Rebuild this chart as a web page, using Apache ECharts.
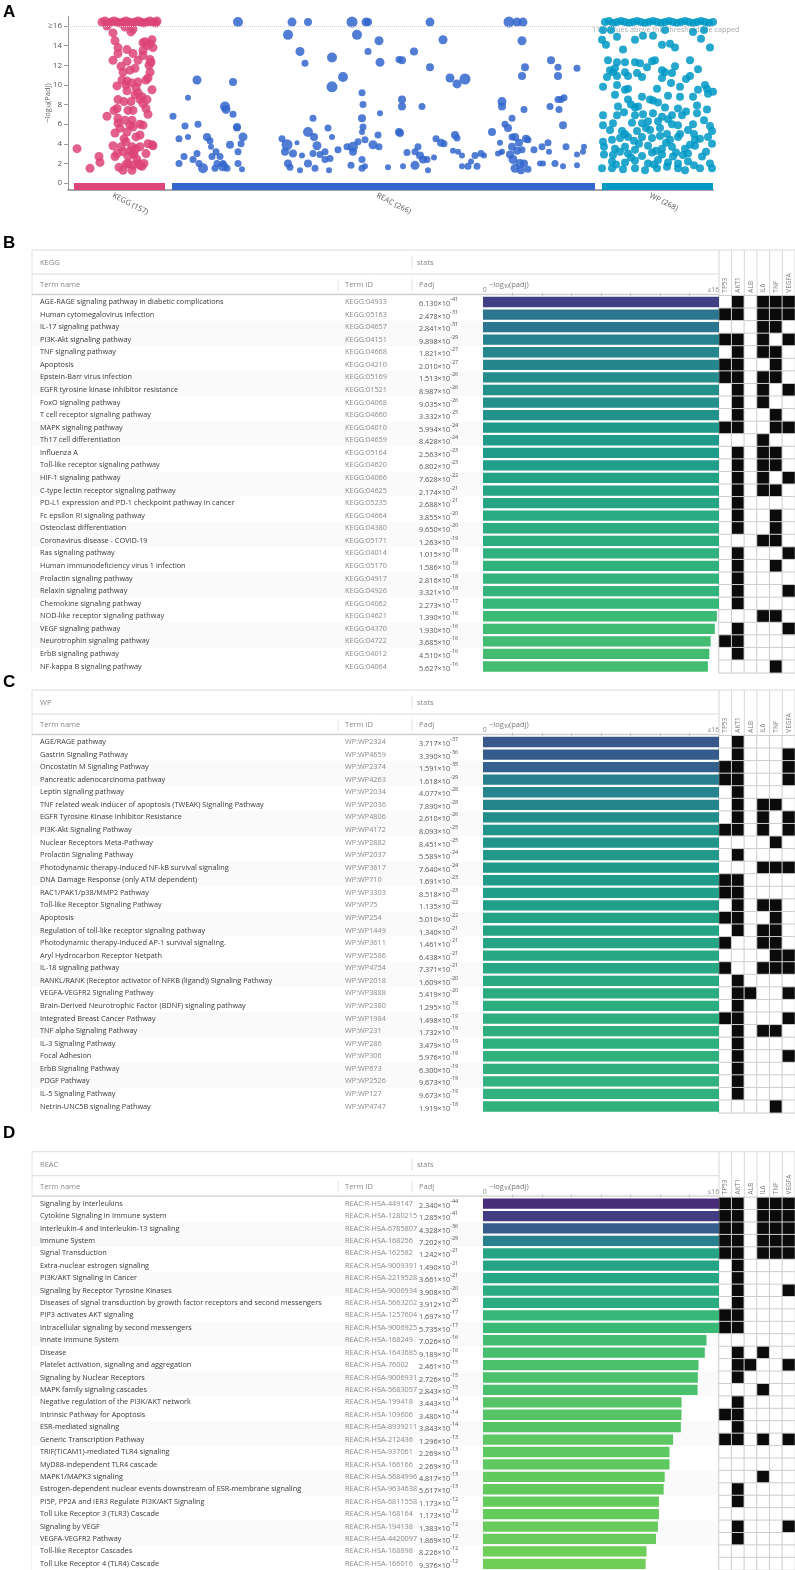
<!DOCTYPE html>
<html><head><meta charset="utf-8">
<script src="https://cdn.jsdelivr.net/npm/echarts@6/dist/echarts.min.js"></script>
<style>html,body{margin:0;padding:0;background:#fff}#c{width:795px;height:1570px}</style>
</head><body><div id="c"></div><script>
// ---------------- DATA ----------------
const sources = ['KEGG', 'REAC', 'WP'];
const sourceCounts = [157, 266, 268];
const sourceColors = ['#dd4477', '#3366cc', '#0099c6'];
// x position along the source track, -log10(padj) (capped points drawn at 16.4), optional dot size
const keggPoints = [
[34,16.4],[37,16.5],[40,16.3],[43,16.4],[46,16.5],[49,16.4],[52,16.3],[55,16.4],[58,16.5],[61,16.4],[64,16.3],[67,16.4],[70,16.5],[73,16.4],[76,16.3],[79,16.4],[82,16.5],[85,16.4],[88,16.3],[89,16.5],
[39,16.0],[45,15.3],[47,14.5],[50,13.8],[57,15.9],[63,15.4],[65,15.7],
[45,12.5],[53,11.9],[55,11.3],[59,12.4],[59,13.6],[65,13.2],[67,11.7],[75,13.5],[75,14.3],[82,14.2],[85,13.8],[84,14.6],[75,13.0],[82,12.6],[81,12.0],[82,11.3],[78,10.5],[84,9.5],
[49,9.9],[54,10.5],[59,10.4],[64,10.2],[59,9.4],[68,9.7],[70,9.2],[74,8.8],[75,8.1],[79,8.5],[50,8.5],[56,8.3],[63,8.3],[49,7.6],[46,7.4],[60,7.4],[65,7.4],[80,7.0],
[50,6.6],[57,6.4],[50,6.1],[65,5.7],[75,5.9],[47,5.1],[52,5.6],[59,5.2],[68,4.7],[72,4.9],[45,3.8],[53,3.7],[58,4.2],[64,3.7],[72,3.7],[84,3.9],[85,3.8],
[49,3.0],[55,3.2],[60,2.7],[65,3.1],[69,2.4],[78,3.0],[60,2.0],[65,1.8],[72,1.8],[55,1.3],[64,1.3],[74,1.7],[51,1.6],[47,2.7],[64,6.4],[72,8.5],[78,7.6],[50,13.2],
[70,2.0],[76,2.0],[58,1.9],[62,3.3],[68,3.5],[80,4.0],[56,4.5],[72,6.0],[62,5.9],[67,9.0],[58,10.0],[70,10.3],[80,10.7],[83,12.3],[70,12.5],[79,14.0],[77,14.4],[62,11.5],[66,2.9],
[9,3.5],[22,1.5],[31,2.7],[32,2.1],[39,6.8]
];
const reacPoints = [
[105,6.8,7],[111,4.5,7],[111,2.0,7],[117,5.8,7],[116,2.7,7],[120,8.7,6],[120,4.7,6],[125,2.4,7],[129,10.5,9],[130,6.0,7],[129,3.0,7],[131,2.0,7],[135,1.5,10],[139,4.7,8],[142,4.3,7],[143,3.7,6],[144,2.7,7],[147,1.5,7],[149,2.0,7],[155,1.7,10],[155,2.0,7],[157,7.8,10],[158,7.5,9],[159,1.5,7],[162,3.9,8],[165,10.3,8],[165,7.0,7],[169,5.7,8],[169,5.6,7],[170,3.2,7],[170,2.0,7],[173,4.0,7],[175,4.7,9],[174,1.4,6],[170,16.4,10],[148,3.2,7],[152,2.7,7],
[214,4.5,7],[217,3.2,8],[219,3.9,11],[220,2.0,8],[222,1.6,7],[225,3.0,8],[229,4.1,5],[232,1.3,6],[234,2.8,6],[240,2.0,8],[245,6.6,7],[246,4.7,8],[247,1.5,7],[249,3.8,9],[245,3.0,7],[252,2.9,7],[257,3.2,7],[257,2.4,7],[261,1.3,6],[262,2.5,7],[260,5.6,7],[264,4.7,6],[240,5.2,10],[270,3.4,7],
[220,15.1,10],[224,16.4,9],[240,16.4,8],[232,13.4,9],[237,12.2,7],[264,12.8,10],[264,9.8,11],[275,10.8,10],[284,16.4,11],[289,15.1,10],[298,16.4,9],[300,16.4,8],[300,13.4,7],[311,14.5,9],[312,12.3,9],
[294,9.2,7],[295,8.0,7],[312,7.1,6],[294,6.6,8],[295,5.7,7],[294,5.2,6],[310,4.9,7],[279,3.7,7],[285,3.7,10],[285,3.2,8],[290,4.2,7],[297,4.4,7],[294,2.4,7],[297,1.7,6],[283,1.8,7],[305,3.9,9],[311,3.7,7],[320,1.6,6],[294,1.5,7],[331,5.2,8],[331,12.6,7],
[362,16.4,9],[334,12.5,8],[346,13.4,8],[362,11.8,8],[375,14.6,9],[382,10.7,9],[389,10.1,9],[397,10.6,11],[334,8.5,8],[334,7.8,8],[354,7.8,7],[332,5.1,8],[347,3.2,7],[350,3.7,7],[339,3.1,7],[352,2.8,8],[355,2.4,8],[359,2.4,7],[347,1.8,9],[335,1.7,6],[360,1.3,6],[366,2.6,6],[368,4.5,7],[373,4.1,8],[376,4.0,7],[387,4.9,8],[389,4.6,7],[385,3.3,6],[390,3.2,6],[394,2.8,6],[394,1.7,6],[400,1.7,7],[403,2.2,6],[407,2.8,7],[409,1.7,7],[413,3.0,7],[416,2.8,6],[424,5.2,8],[430,3.0,6],[432,4.1,6],[434,3.2,6],
[434,8.3,9],[434,7.8,8],[437,6.0,7],[440,5.6,8],[444,6.6,7],[441,16.4,11],[449,16.4,9],[455,16.4,9],[454,14.5,9],[457,11.8,8],[454,10.9,8],[456,7.5,7],[444,4.7,7],[447,4.7,8],[451,4.1,8],[458,4.5,8],[460,4.4,7],[444,3.7,8],[449,3.3,8],[454,3.4,7],[442,2.9,8],[445,2.4,9],[452,2.0,9],[456,2.0,8],[447,1.5,9],[453,1.3,8],[460,1.4,7],[433,3.1,5],
[466,3.4,7],[474,3.7,7],[472,2.0,6],[475,2.0,6],[480,4.1,7],[481,3.2,6],[487,2.0,7],[495,1.7,6],[498,3.7,7],[509,2.9,6],[509,1.8,6],[516,3.7,6],[515,3.2,6],[483,12.5,8],[490,11.8,7],[490,10.9,8],[509,11.7,7],[482,7.8,7],[490,8.5,7],[493,8.5,7],[496,8.7,7],[491,7.5,7],[495,5.9,8]
];
const wpPoints = [
[537,16.4],[541,16.5],[545,16.3],[549,16.4],[553,16.5],[557,16.4],[561,16.3],[565,16.4],[569,16.5],[573,16.4],[577,16.3],[581,16.4],[585,16.5],[589,16.4],[593,16.3],[597,16.4],[601,16.5],[605,16.4],[609,16.3],[613,16.4],[617,16.5],[621,16.4],[625,16.3],[629,16.4],[633,16.5],[637,16.4],[641,16.3],[645,16.4],
[535,15.6],[543,15.6],[597,15.6],[625,15.4],[636,15.6],[549,14.9],[575,15.0],[585,15.0],[567,14.6],[534,14.6],[633,14.7],
[538,14.1],[594,14.1],[602,14.2],[607,13.8],[642,13.8],[540,12.5],[587,12.5],[622,12.5],[549,12.3],[557,12.3],[567,12.3],[572,12.2],[584,12.4],[607,11.9],[547,11.7],
[542,11.5],[545,11.3],[557,11.3],[569,11.2],[594,11.5],[597,11.3],[604,11.2],[539,10.8],[549,10.9],[560,10.9],[574,10.8],[594,10.7],[622,10.9],
[535,9.8],[549,10.0],[557,9.5],[560,9.6],[612,9.8],[639,9.6],[645,9.3],[630,9.5],[637,10.0],
[547,9.0],[560,8.5],[574,8.8],[582,8.5],[585,8.4],[600,8.9],[612,8.8],[625,8.8],[640,9.1],
[550,7.8],[567,7.7],[570,7.8],[597,7.7],[610,7.6],[629,7.9],[639,7.5],
[535,6.9],[549,6.9],[567,6.9],[575,7.0],[585,7.1],[594,6.75],[604,6.9],[614,6.9],[629,7.1],
[535,5.9],[545,6.1],[564,6.15],[574,6.1],[580,6.3],[590,6.3],[604,6.0],[610,5.9],[625,6.0],[642,5.8],
[542,5.4],[554,5.3],[557,5.0],[569,5.3],[582,5.4],[592,5.6],[599,5.0],[612,5.0],[620,5.4],[644,5.3],
[535,4.2],[544,4.4],[552,4.6],[560,4.7],[574,4.7],[584,4.6],[592,4.8],[602,4.4],[610,4.7],[627,4.4],[632,4.5],[640,4.7],
[536,3.7],[547,3.5],[557,3.7],[567,3.4],[580,3.8],[594,3.5],[604,3.7],[617,3.5],[627,3.8],[644,4.0],
[536,2.9],[545,2.85],[560,3.0],[574,2.75],[584,3.1],[594,2.9],[605,2.7],[615,2.85],[620,3.0],[634,2.7],
[544,2.2],[557,2.1],[567,2.3],[580,2.0],[590,2.35],[600,2.1],[610,2.0],[620,2.2],[642,2.0],
[534,1.5],[544,1.5],[555,1.4],[567,1.5],[577,1.3],[589,1.5],[599,1.65],[610,1.5],[617,1.3],[632,1.5],[644,1.5],
[552,3.2],[563,2.6],[571,4.0],[588,3.3],[598,4.1],[608,3.1],[622,3.9],[638,3.2],[548,1.9],[586,1.9],[626,1.8],[563,8.0],[590,8.2],[618,7.3],[556,7.2],[600,6.5],[636,6.4],[578,5.6],[566,4.3],[626,5.0],[589,9.6],[603,10.2],[618,10.6],[579,11.8],[630,11.6],[555,13.6]
];
const capThreshold = 16;
const cappedCount = 111;
const yTicks = [0, 2, 4, 6, 8, 10, 12, 14, 16];

const genes = ['TP53', 'AKT1', 'ALB', 'IL6', 'TNF', 'VEGFA'];

const keggTerms = ['AGE-RAGE signaling pathway in diabetic complications','Human cytomegalovirus infection','IL-17 signaling pathway','PI3K-Akt signaling pathway','TNF signaling pathway','Apoptosis','Epstein-Barr virus infection','EGFR tyrosine kinase inhibitor resistance','FoxO signaling pathway','T cell receptor signaling pathway','MAPK signaling pathway','Th17 cell differentiation','Influenza A','Toll-like receptor signaling pathway','HIF-1 signaling pathway','C-type lectin receptor signaling pathway','PD-L1 expression and PD-1 checkpoint pathway in cancer','Fc epsilon RI signaling pathway','Osteoclast differentiation','Coronavirus disease - COVID-19','Ras signaling pathway','Human immunodeficiency virus 1 infection','Prolactin signaling pathway','Relaxin signaling pathway','Chemokine signaling pathway','NOD-like receptor signaling pathway','VEGF signaling pathway','Neurotrophin signaling pathway','ErbB signaling pathway','NF-kappa B signaling pathway'];
const keggIds = ['KEGG:04933','KEGG:05163','KEGG:04657','KEGG:04151','KEGG:04668','KEGG:04210','KEGG:05169','KEGG:01521','KEGG:04068','KEGG:04660','KEGG:04010','KEGG:04659','KEGG:05164','KEGG:04620','KEGG:04066','KEGG:04625','KEGG:05235','KEGG:04664','KEGG:04380','KEGG:05171','KEGG:04014','KEGG:05170','KEGG:04917','KEGG:04926','KEGG:04062','KEGG:04621','KEGG:04370','KEGG:04722','KEGG:04012','KEGG:04064'];
const keggPadj = [6.130e-41,2.478e-31,2.841e-31,9.898e-29,1.821e-27,2.010e-27,1.513e-26,8.987e-26,9.035e-26,3.332e-25,5.994e-24,8.428e-24,2.563e-23,6.802e-23,7.628e-22,2.174e-21,2.688e-21,3.855e-20,9.650e-20,1.263e-19,1.015e-18,1.586e-18,2.816e-18,3.321e-18,2.273e-17,1.390e-16,1.930e-16,3.685e-16,4.510e-16,5.627e-16];
const keggGenes = ['010111','110111','000110','110101','010110','110010','110110','010101','010100','010010','110011','000100','010110','010110','010101','010110','010000','010010','010010','000110','010001','010010','010000','010001','010000','000110','010001','110000','010000','000010'];

const wpTerms = ['AGE/RAGE pathway','Gastrin Signaling Pathway','Oncostatin M Signaling Pathway','Pancreatic adenocarcinoma pathway','Leptin signaling pathway','TNF related weak inducer of apoptosis (TWEAK) Signaling Pathway','EGFR Tyrosine Kinase Inhibitor Resistance','PI3K-Akt Signaling Pathway','Nuclear Receptors Meta-Pathway','Prolactin Signaling Pathway','Photodynamic therapy-induced NF-kB survival signaling','DNA Damage Response (only ATM dependent)','RAC1/PAK1/p38/MMP2 Pathway','Toll-like Receptor Signaling Pathway','Apoptosis','Regulation of toll-like receptor signaling pathway','Photodynamic therapy-induced AP-1 survival signaling.','Aryl Hydrocarbon Receptor Netpath','IL-18 signaling pathway','RANKL/RANK (Receptor activator of NFKB (ligand)) Signaling Pathway','VEGFA-VEGFR2 Signaling Pathway','Brain-Derived Neurotrophic Factor (BDNF) signaling pathway','Integrated Breast Cancer Pathway','TNF alpha Signaling Pathway','IL-3 Signaling Pathway','Focal Adhesion','ErbB Signaling Pathway','PDGF Pathway','IL-5 Signaling Pathway','Netrin-UNC5B signaling Pathway'];
const wpIds = ['WP:WP2324','WP:WP4659','WP:WP2374','WP:WP4263','WP:WP2034','WP:WP2036','WP:WP4806','WP:WP4172','WP:WP2882','WP:WP2037','WP:WP3617','WP:WP710','WP:WP3303','WP:WP75','WP:WP254','WP:WP1449','WP:WP3611','WP:WP2586','WP:WP4754','WP:WP2018','WP:WP3888','WP:WP2380','WP:WP1984','WP:WP231','WP:WP286','WP:WP306','WP:WP673','WP:WP2526','WP:WP127','WP:WP4747'];
const wpPadj = [3.717e-37,3.390e-36,1.591e-35,1.618e-29,4.077e-28,7.890e-28,2.610e-26,8.093e-25,8.451e-25,5.589e-24,7.640e-24,1.691e-23,8.518e-23,1.135e-22,5.010e-22,1.340e-21,1.461e-21,6.438e-21,7.371e-21,1.609e-20,5.419e-20,1.295e-19,1.498e-19,1.732e-19,3.479e-19,5.976e-19,6.300e-19,9.673e-19,9.673e-19,1.919e-18];
const wpGenes = ['010000','010001','110001','110001','010000','010110','010101','110101','000010','010000','000111','110000','110000','010110','110010','010110','100110','000011','100111','010000','011001','010000','110001','010110','010000','010001','010000','010000','010000','000010'];

const reacTerms = ['Signaling by Interleukins','Cytokine Signaling in Immune system','Interleukin-4 and Interleukin-13 signaling','Immune System','Signal Transduction','Extra-nuclear estrogen signaling','PI3K/AKT Signaling in Cancer','Signaling by Receptor Tyrosine Kinases','Diseases of signal transduction by growth factor receptors and second messengers','PIP3 activates AKT signaling','Intracellular signaling by second messengers','Innate Immune System','Disease','Platelet activation, signaling and aggregation','Signaling by Nuclear Receptors','MAPK family signaling cascades','Negative regulation of the PI3K/AKT network','Intrinsic Pathway for Apoptosis','ESR-mediated signaling','Generic Transcription Pathway','TRIF(TICAM1)-mediated TLR4 signaling','MyD88-independent TLR4 cascade','MAPK1/MAPK3 signaling','Estrogen-dependent nuclear events downstream of ESR-membrane signaling','PI5P, PP2A and IER3 Regulate PI3K/AKT Signaling','Toll Like Receptor 3 (TLR3) Cascade','Signaling by VEGF','VEGFA-VEGFR2 Pathway','Toll-like Receptor Cascades','Toll Like Receptor 4 (TLR4) Cascade'];
const reacIds = ['REAC:R-HSA-449147','REAC:R-HSA-1280215','REAC:R-HSA-6785807','REAC:R-HSA-168256','REAC:R-HSA-162582','REAC:R-HSA-9009391','REAC:R-HSA-2219528','REAC:R-HSA-9006934','REAC:R-HSA-5663202','REAC:R-HSA-1257604','REAC:R-HSA-9006925','REAC:R-HSA-168249','REAC:R-HSA-1643685','REAC:R-HSA-76002','REAC:R-HSA-9006931','REAC:R-HSA-5683057','REAC:R-HSA-199418','REAC:R-HSA-109606','REAC:R-HSA-8939211','REAC:R-HSA-212436','REAC:R-HSA-937061','REAC:R-HSA-166166','REAC:R-HSA-5684996','REAC:R-HSA-9634638','REAC:R-HSA-6811558','REAC:R-HSA-168164','REAC:R-HSA-194138','REAC:R-HSA-4420097','REAC:R-HSA-168898','REAC:R-HSA-166016'];
const reacPadj = [2.340e-44,1.285e-41,4.328e-36,7.202e-29,1.242e-21,1.490e-21,3.661e-21,3.908e-20,3.912e-20,1.697e-17,5.735e-17,7.026e-16,9.189e-16,2.461e-15,2.726e-15,2.843e-15,3.443e-14,3.480e-14,3.843e-14,1.296e-13,2.269e-13,2.269e-13,4.817e-13,5.617e-13,1.173e-12,1.173e-12,1.383e-12,1.869e-12,8.226e-12,9.376e-12];
const reacGenes = ['110111','110111','110111','110111','110111','010000','010000','010001','010000','110000','110000','000000','010100','011001','010000','000100','010000','110000','010000','110101','000000','000000','000100','010000','010000','000000','010001','010000','000000','000000'];

// ---------------- LAYOUT ----------------
const FONT = 'Open Sans';
const A = {left: 68, width: 645, yMin: -0.72, yMax: 17, top: 16.2, height: 173.9};
const sourceRanges = [[6, 97], [104, 527], [534, 645]];
const sourceLabelPos = [45, 309, 582];
const ROW_H = 12.57;
const panels = [
  {letter: 'B', title: 'KEGG', F: 250, LY: 243, terms: keggTerms, ids: keggIds, padj: keggPadj, g: keggGenes},
  {letter: 'C', title: 'WP', F: 690, LY: 682, terms: wpTerms, ids: wpIds, padj: wpPadj, g: wpGenes},
  {letter: 'D', title: 'REAC', F: 1151.7, LY: 1133, terms: reacTerms, ids: reacIds, padj: reacPadj, g: reacGenes}
];

function padjLabel(p) {
  let e = Math.floor(Math.log10(p));
  let m = p / Math.pow(10, e);
  if (m >= 9.9995) { m /= 10; e += 1; }
  return m.toFixed(3) + '|' + e;
}

const option = {
  animation: false,
  textStyle: {fontFamily: FONT},
  grid: [], xAxis: [], yAxis: [], series: [], visualMap: [],
  graphic: {elements: []}
};
const G = option.graphic.elements;
function gline(x1, y1, x2, y2, c, w) { G.push({type: 'line', silent: true, shape: {x1, y1, x2, y2}, style: {stroke: c, lineWidth: w || 1}}); }
function gtext(x, y, t, opts) {
  G.push({type: 'text', silent: true, x, y, style: Object.assign({text: t, fill: '#888', fontSize: 7.5, fontFamily: FONT, textAlign: 'left', textVerticalAlign: 'middle'}, opts || {})});
}

// ---- Panel A ----
option.grid.push({left: A.left, top: A.top, width: A.width, height: A.height});
option.xAxis.push({
  gridIndex: 0, type: 'value', min: 0, max: A.width,
  axisLine: {show: true, onZero: false, lineStyle: {color: '#888', width: 1.5}},
  axisTick: {show: false}, splitLine: {show: false},
  axisLabel: {customValues: sourceLabelPos, rotate: -27, fontSize: 7.5, color: '#555', margin: 5,
    formatter: v => { const i = sourceLabelPos.indexOf(v); return i < 0 ? '' : sources[i] + ' (' + sourceCounts[i] + ')'; }}
});
option.yAxis.push({
  gridIndex: 0, type: 'value', min: A.yMin, max: A.yMax,
  axisLine: {show: true, lineStyle: {color: '#999'}},
  axisTick: {show: true, customValues: yTicks, length: 4, lineStyle: {color: '#999'}},
  axisLabel: {customValues: yTicks, fontSize: 8, color: '#555', margin: 6, formatter: v => v === capThreshold ? '≥' + v : String(v)},
  splitLine: {show: false},
  name: '−log₁₀(Padj)', nameLocation: 'middle', nameGap: 16, nameMoveOverlap: false,
  nameTextStyle: {fontSize: 7.5, color: '#666'}
});
[keggPoints, reacPoints, wpPoints].forEach((pts, i) => {
  const def = i === 1 ? 7 : (i === 0 ? 9 : 8);
  const s = {
    type: 'scatter', xAxisIndex: 0, yAxisIndex: 0, data: pts, name: sources[i],
    symbolSize: d => d[2] || def,
    itemStyle: {color: sourceColors[i], opacity: 0.85},
    markArea: {silent: true, itemStyle: {color: sourceColors[i], opacity: 1},
      data: [[{xAxis: sourceRanges[i][0], yAxis: 0}, {xAxis: sourceRanges[i][1], yAxis: A.yMin}]]}
  };
  if (i === 0) s.markLine = {silent: true, symbol: ['none', 'none'], label: {show: false},
    lineStyle: {type: 'dotted', color: '#cfcfcf', width: 1}, data: [{yAxis: capThreshold}]};
  option.series.push(s);
});
G.push({type: 'text', silent: true, x: 3, y: 12, style: {text: 'A', fill: '#000', font: 'bold 17px "Liberation Sans", Arial', textVerticalAlign: 'middle'}});
gtext(592, 30, cappedCount + ' values above this threshold are capped', {fill: '#aaa', fontSize: 7.3});

// ---- Table panels ----
const barSeriesIdx = [], heatSeriesIdx = [];
panels.forEach((p, k) => {
  const F = p.F, top = F + 45.7, H = ROW_H * 30;
  const rows = p.terms.map((_, i) => i);
  const gS = option.grid.length;
  option.grid.push({left: 32, top, width: 687, height: H});
  option.grid.push({left: 483, top, width: 236, height: H});
  option.grid.push({left: 719, top, width: 76, height: H});
  const xS = option.xAxis.length;
  option.xAxis.push({gridIndex: gS, type: 'value', show: false});
  option.xAxis.push({gridIndex: gS + 1, type: 'value', position: 'top', min: 0, max: 16,
    axisLine: {show: false}, splitLine: {show: false},
    axisTick: {show: true, customValues: [2, 4, 6, 8, 10, 12, 14], length: 3, lineStyle: {color: '#c4c4c4'}},
    axisLabel: {customValues: [0, 16], fontSize: 6.5, color: '#888', margin: 2, alignMinLabel: 'left', alignMaxLabel: 'right',
      formatter: v => v === 16 ? '≤16' : '0'}});
  option.xAxis.push({gridIndex: gS + 2, type: 'category', data: genes, position: 'top',
    axisLine: {show: false}, axisTick: {show: false}, splitLine: {show: false},
    axisLabel: {interval: 0, rotate: -90, margin: 3, fontSize: 6.5, color: '#777'}});
  const yS = option.yAxis.length;
  option.yAxis.push({gridIndex: gS, type: 'category', data: rows, inverse: true,
    axisLine: {show: false}, axisTick: {show: false}, axisLabel: {show: false}, splitLine: {show: false},
    splitArea: {show: true, areaStyle: {color: ['#ffffff', '#fafafa']}}});
  option.yAxis.push({gridIndex: gS + 1, type: 'category', data: p.terms, inverse: true, position: 'left',
    axisLine: {show: false}, axisTick: {show: false},
    axisLabel: {interval: 0, align: 'left', margin: 443, fontSize: 7.3, color: '#383838'}});
  option.yAxis.push({gridIndex: gS + 1, type: 'category', data: p.ids, inverse: true, position: 'left',
    axisLine: {show: false}, axisTick: {show: false},
    axisLabel: {interval: 0, align: 'left', margin: 138, fontSize: 7.3, color: '#8a8a8a'}});
  option.yAxis.push({gridIndex: gS + 1, type: 'category', data: p.padj.map(padjLabel), inverse: true, position: 'left',
    axisLine: {show: false}, axisTick: {show: false},
    axisLabel: {interval: 0, align: 'left', margin: 64,
      formatter: v => { const s = v.split('|'); return '{m|' + s[0] + '×10}{e|' + s[1] + '}'; },
      rich: {m: {fontSize: 7.3, color: '#555', verticalAlign: 'bottom', lineHeight: 11},
             e: {fontSize: 5.6, color: '#555', verticalAlign: 'top', lineHeight: 11}}}});
  option.yAxis.push({gridIndex: gS + 2, type: 'category', data: rows, inverse: true, show: false});

  barSeriesIdx.push(option.series.length);
  option.series.push({type: 'bar', xAxisIndex: xS + 1, yAxisIndex: yS + 1, barWidth: 10.3,
    encode: {x: 0, y: 1},
    data: p.padj.map((v, i) => { const l = -Math.log10(v); return [Math.min(l, 16), i, l]; })});
  heatSeriesIdx.push(option.series.length);
  const hd = [];
  p.g.forEach((str, i) => { for (let j = 0; j < genes.length; j++) hd.push([j, i, +str[j]]); });
  option.series.push({type: 'heatmap', xAxisIndex: xS + 2, yAxisIndex: yS + 4, data: hd,
    itemStyle: {borderColor: '#cdcdcd', borderWidth: 1}});

  // frame & header
  G.push({type: 'text', silent: true, x: 3, y: p.LY, style: {text: p.letter, fill: '#000', font: 'bold 17px "Liberation Sans", Arial', textVerticalAlign: 'middle'}});
  gline(32, F, 795, F, '#dcdcdc');
  gline(32, F, 32, top + H, '#e0e0e0');
  gline(32, F + 24, 719, F + 24, '#dcdcdc');
  gline(32, F + 44.5, 719, F + 44.5, '#cfcfcf', 1.3);
  gline(412, F + 6, 412, F + 19, '#e2e2e2');
  gline(412, F + 29, 412, F + 41, '#e2e2e2');
  gline(338, F + 29, 338, F + 41, '#e2e2e2');
  for (let c = 0; c <= genes.length; c++) { const x = 719 + c * 76 / 6; gline(x, F, x, top, '#d8d8d8'); }
  gtext(40, F + 13, p.title);
  gtext(417, F + 13, 'stats');
  gtext(40, F + 35, 'Term name');
  gtext(345, F + 35, 'Term ID');
  gtext(419, F + 35, 'Padj');
  gtext(489, F + 35, '−log₁₀(padj)', {fill: '#777'});
});

option.visualMap.push({type: 'continuous', show: false, seriesIndex: barSeriesIdx, dimension: 2, min: 0, max: 50,
  inRange: {color: ['#fde725', '#b5de2b', '#6ece58', '#35b779', '#1f9e89', '#26828e', '#31688e', '#3e4989', '#482878', '#440154']}});
option.visualMap.push({type: 'piecewise', show: false, seriesIndex: heatSeriesIdx, dimension: 2,
  pieces: [{value: 0, color: '#ffffff'}, {value: 1, color: '#0b0b0b'}]});

const chart = echarts.init(document.getElementById('c'), null, {renderer: 'canvas'});
chart.setOption(option);
</script></body></html>
